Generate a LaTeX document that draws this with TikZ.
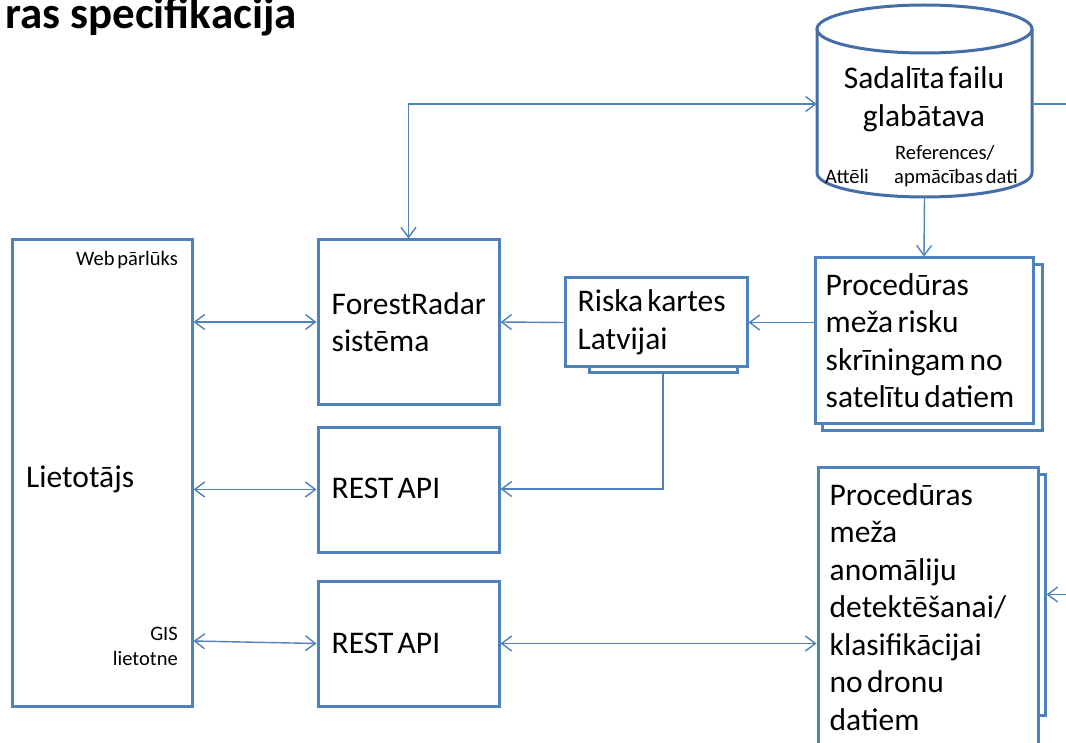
\documentclass[tikz,border=0pt]{standalone}
\usepackage{fontspec}
\setmainfont[WordSpace=0.6]{Carlito}
\usetikzlibrary{arrows.meta,calc}
\definecolor{ob}{RGB}{79,129,189}
\definecolor{obd}{RGB}{68,110,165}
\tikzset{
  box/.style={draw=ob, line width=3pt, fill=white, inner sep=0pt},
  backbox/.style={draw=ob, line width=3pt, fill=white, inner sep=0pt},
  conn/.style={draw=ob, line width=1.4pt},
  tip/.style={-{Straight Barb[length=10pt,width=15pt,line width=1.4pt]}},
  dtip/.style={{Straight Barb[length=10pt,width=15pt,line width=1.4pt]}-{Straight Barb[length=10pt,width=15pt,line width=1.4pt]}},
  small/.style={font=\fontsize{20.5}{24.5}\selectfont, inner sep=0pt},
  big/.style={font=\fontsize{31.5}{37.5}\selectfont, inner sep=0pt},
  boxtext/.style={font=\fontsize{31.5}{37.5}\selectfont, inner sep=0pt, align=left, anchor=west},
}
\begin{document}
\begin{tikzpicture}[x=1pt,y=-1pt]
\useasboundingbox (0,0) rectangle (1066,743);
\clip (0,0) rectangle (1066,743);
% title
\node[font=\bfseries\fontsize{45}{50}\selectfont, anchor=base east, inner sep=0pt] (title) at (297,28.5) {ras\hspace{10pt}specifikacija};

% user box
\node[box, minimum width=180pt, minimum height=466pt] (user) at (102,473) {};
\node[small, anchor=base east] (web) at (178,266) {Web pārlūks};
\node[small, anchor=base east, align=right] (gis) at (178,665) {GIS\\lietotne};
\node[big, anchor=base west] (lt) at (26,487) {Lietotājs};

% middle boxes
\node[box, minimum width=181pt, minimum height=164pt] (fr) at (408.5,322) {};
\node[boxtext] (frt) at ([xshift=15pt]fr.west) {ForestRadar\\sistēma};
\node[box, minimum width=181pt, minimum height=125pt] (r1) at (408.5,489.5) {};
\node[boxtext] (r1t) at ([xshift=15pt,yshift=1pt]r1.west) {REST API};
\node[box, minimum width=181pt, minimum height=125pt] (r2) at (408.5,643.5) {};
\node[boxtext] (r2t) at ([xshift=15pt]r2.west) {REST API};

% riska kartes
\node[backbox, minimum width=148pt, minimum height=80pt] (rkb) at (663,333) {};
\node[box, minimum width=182pt, minimum height=89pt] (rk) at (656,322.5) {};
\node[boxtext] (rkt) at ([xshift=14pt]rk.west) {Riska kartes\\Latvijai};

% procedures 1
\node[backbox, minimum width=220pt, minimum height=165pt] (p1b) at (932,347.5) {};
\node[box, minimum width=218pt, minimum height=165pt] (p1) at (924,340.5) {};
\node[boxtext] (p1t) at ([xshift=12pt]p1.west) {Procedūras\\meža risku\\skrīningam no\\satelītu datiem};

% procedures 2
\node[backbox, minimum width=220pt, minimum height=241pt] (p2b) at (935,594.5) {};
\node[box, minimum width=220pt, minimum height=280pt] (p2) at (928,607) {};
\node[boxtext] (p2t) at ([xshift=13pt]p2.west) {Procedūras\\meža\\anomāliju\\detektēšanai/\\klasifikācijai\\no dronu\\datiem};

% storage cylinder
\node[minimum width=215pt, minimum height=192pt, inner sep=0pt] (store) at (924.5,101) {};
\draw[draw=obd, line width=3pt, fill=white] (817,29) -- (817,173) arc[start angle=180, end angle=360, x radius=107.5, y radius=-24] -- (1032,29);
\draw[draw=obd, line width=3pt] (924.5,29) ellipse[x radius=107.5, y radius=24];
\node[big, anchor=base] (st1) at (924,89) {Sadalīta failu};
\node[big, anchor=base] (st2) at (924,127) {glabātava};
\node[small, anchor=base west] (st3) at (895,160) {References/};
\node[small, anchor=base west] (st4) at (894,184) {apmācības dati};
\node[small, anchor=base west] (st5) at (825,184) {Attēli};

% coordinates
\coordinate (stw) at (store.west |- 0,104);
\coordinate (ste) at (store.east |- 0,104);
\coordinate (rightout) at (1066,104);
\coordinate (p2in) at (1066,594.5);

% connectors
\draw[conn,dtip] (fr.north) |- (stw);
\draw[conn] (ste) -- (rightout);
\draw[conn,tip] (store.south) -- (p1.north);
\draw[conn,dtip] (fr.west -| user.east) -- (fr.west);
\draw[conn,tip] (rk.west) -- (fr.east);
\draw[conn,tip] (rk.east -| p1.west) -- (rk.east);
\draw[conn,tip] (rkb.south) |- ([yshift=0.5pt]r1.east);
\draw[conn,dtip] (r1.west -| user.east) -- (r1.west);
\draw[conn,dtip] ([yshift=2.5pt]r2.west -| user.east) -- (r2.west);
\draw[conn,dtip] (r2.east) -- (r2.east -| p2.west);
\draw[conn,tip] (p2in) -- (p2b.east);
\end{tikzpicture}
\end{document}
